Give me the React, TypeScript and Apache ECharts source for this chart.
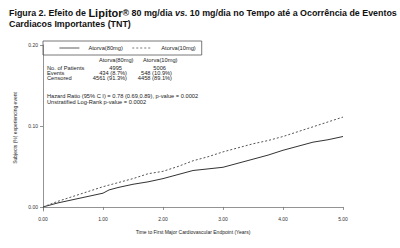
import React, { useEffect, useRef } from 'react';
import * as echarts from 'echarts';

const years = [0, 0.25, 0.5, 0.75, 1.0, 1.1, 1.25, 1.5, 1.75, 2.0, 2.25, 2.5, 2.75, 3.0, 3.25, 3.5, 3.75, 4.0, 4.25, 4.5, 4.75, 5.0];
const atorva80 = [0, 0.005, 0.009, 0.013, 0.017, 0.021, 0.024, 0.028, 0.031, 0.035, 0.040, 0.045, 0.047, 0.049, 0.054, 0.059, 0.064, 0.070, 0.075, 0.080, 0.083, 0.087];
const atorva10 = [0, 0.007, 0.013, 0.019, 0.025, 0.027, 0.030, 0.035, 0.041, 0.044, 0.050, 0.057, 0.062, 0.068, 0.073, 0.078, 0.082, 0.087, 0.093, 0.099, 0.105, 0.111];
const xTicks = [0, 1, 2, 3, 4, 5];
const yTicks = [0, 0.1, 0.2];
const seriesNames = ['Atorva(80mg)', 'Atorva(10mg)'];
const tableRows = ['No. of Patients', 'Events', 'Censored'];
const table80 = ['4995', '434 (8.7%)', '4561 (91.3%)'];
const table10 = ['5006', '548 (10.9%)', '4458 (89.1%)'];
const statsLines = [
  'Hazard Ratio (95% C I) = 0.78 (0.69,0.89), p-value = 0.0002',
  'Unstratified Log-Rank p-value = 0.0002',
];
const xName = 'Time to First Major Cardiovascular Endpoint (Years)';
const yName = 'Subjects (%) experiencing event';

const FONT = '"Liberation Sans", Arial, sans-serif';

export default function App() {
  const ref = useRef<HTMLDivElement>(null);
  useEffect(() => {
    if (!ref.current) return;
    const chart = echarts.init(ref.current, null, { renderer: 'svg' });
    const small = { fontFamily: FONT, fontSize: 5.7, fill: '#222' };
    const graphics: any[] = [];
    graphics.push({ type: 'text', x: 99, y: 57, style: { ...small, text: seriesNames[0] } });
    graphics.push({ type: 'text', x: 143, y: 57, style: { ...small, text: seriesNames[1] } });
    tableRows.forEach((r, i) => {
      const y = 65 + i * 5.2;
      graphics.push({ type: 'text', x: 47, y, style: { ...small, text: r } });
      graphics.push({ type: 'text', x: i === 0 ? 122 : 127, y, style: { ...small, text: table80[i], align: 'right' } });
      graphics.push({ type: 'text', x: i === 0 ? 166 : 172, y, style: { ...small, text: table10[i], align: 'right' } });
    });
    statsLines.forEach((s, i) => {
      graphics.push({ type: 'text', x: 47, y: 92.5 + i * 6.5, style: { ...small, text: s } });
    });

    chart.setOption({
      animation: false,
      backgroundColor: '#fff',
      title: {
        left: 4,
        top: 2,
        text:
          '{a|Figura 2. Efeito de }{b|Lipitor}{a|® 80 mg/dia }{i|vs.}{a| 10 mg/dia no Tempo até a Ocorrência de Eventos}\n{a|Cardiacos Importantes (TNT)}',
        textStyle: {
          rich: {
            a: { fontFamily: FONT, fontWeight: 'bold', fontSize: 8.9, color: '#111', lineHeight: 11.5 },
            b: { fontFamily: FONT, fontWeight: 'bold', fontSize: 11, color: '#111', lineHeight: 11.5 },
            i: { fontFamily: FONT, fontWeight: 'bold', fontStyle: 'italic', fontSize: 8.9, color: '#111', lineHeight: 11.5 },
          },
        },
      },
      legend: {
        left: 43,
        top: 41,
        data: seriesNames,
        orient: 'horizontal',
        borderColor: '#555',
        borderWidth: 0.8,
        padding: [4, 6, 4, 16],
        itemWidth: 20,
        itemHeight: 6,
        itemGap: 9,
        itemStyle: { opacity: 0 },
        lineStyle: { width: 0.8 },
        textStyle: { fontFamily: FONT, fontSize: 5.7, color: '#222', padding: [0, 0, 0, 4] },
      },
      grid: { left: 43, right: 57, top: 45, bottom: 37, containLabel: false },
      xAxis: {
        type: 'value',
        min: 0,
        max: 5,
        interval: 1,
        name: xName,
        nameLocation: 'middle',
        nameGap: 18,
        nameTextStyle: { fontFamily: FONT, fontSize: 5, color: '#222' },
        axisLine: { lineStyle: { color: '#777', width: 0.8 } },
        axisTick: { length: 3, lineStyle: { color: '#777', width: 0.8 } },
        axisLabel: {
          fontFamily: FONT,
          fontSize: 5,
          color: '#333',
          margin: 5,
          formatter: (v: number) => v.toFixed(2),
          customValues: xTicks,
        },
        splitLine: { show: false },
      },
      yAxis: {
        type: 'value',
        min: -0.005,
        max: 0.2,
        name: yName,
        nameLocation: 'middle',
        nameGap: 20,
        nameRotate: 90,
        nameTextStyle: { fontFamily: FONT, fontSize: 5, color: '#222' },
        axisLine: { show: true, lineStyle: { color: '#777', width: 0.8 } },
        axisTick: { show: true, length: 3, lineStyle: { color: '#777', width: 0.8 }, customValues: yTicks },
        axisLabel: {
          fontFamily: FONT,
          fontSize: 5,
          color: '#333',
          margin: 5,
          formatter: (v: number) => v.toFixed(2),
          customValues: yTicks,
        },
        splitLine: { show: false },
      },
      graphic: graphics,
      series: [
        {
          name: seriesNames[0],
          type: 'line',
          symbol: 'none',
          data: years.map((x, i) => [x, atorva80[i]]),
          lineStyle: { color: '#333', width: 1, type: 'solid' },
          itemStyle: { color: '#333' },
        },
        {
          name: seriesNames[1],
          type: 'line',
          symbol: 'none',
          data: years.map((x, i) => [x, atorva10[i]]),
          lineStyle: { color: '#555', width: 1, type: [2, 2] },
          itemStyle: { color: '#555' },
        },
      ],
    });
    return () => chart.dispose();
  }, []);
  return <div ref={ref} style={{ width: 400, height: 248, position: 'absolute', left: 0, top: 0 }} />;
}
